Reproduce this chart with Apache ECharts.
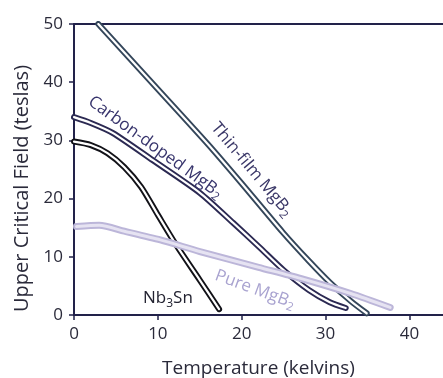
<!DOCTYPE html>
<html>
<head>
<meta charset="utf-8">
<script src="https://cdn.jsdelivr.net/npm/echarts@6/dist/echarts.min.js"></script>
<style>
html, body { margin: 0; padding: 0; background: #fff; }
#chart { width: 443px; height: 378px; }
</style>
</head>
<body>
<div id="chart"></div>
<script>
// Axis tick labels
const xTicks = [0, 10, 20, 30, 40];
const yTicks = [0, 10, 20, 30, 40, 50];

// Upper critical field (T) versus temperature (K), as [temperature, field]
const thinFilmMgB2 = [[2.9, 50], [10, 38.8], [16, 29.3], [20, 22.6], [24.9, 14.2], [28, 9.3], [30.5, 5.6], [33, 2.4], [34.9, 0.3]];
const carbonDopedMgB2 = [[0, 34], [2, 33], [4.6, 31.3], [9.4, 26.6], [15, 21], [19, 15.8], [22, 11.8], [25, 7.7], [28, 4.3], [30.5, 2.2], [32.4, 1.2]];
const nb3Sn = [[0, 29.8], [2, 29.2], [4, 27.8], [6, 25.4], [8, 22], [10, 17.2], [12.2, 12], [15, 6], [17.3, 1]];
const pureMgB2 = [[0.3, 15.2], [3, 15.4], [6, 14.4], [10.3, 12.9], [15, 10.9], [22, 8.2], [27, 6.3], [33, 3.7], [37.7, 1.3]];

// Curve captions: text, anchor [temperature, field], angle in degrees (clockwise)
const captions = [
  { text: 'Thin-film MgB{s|2}', at: [21.2, 25], angle: 50, color: '#3b3868' },
  { text: 'Carbon-doped MgB{s|2}', at: [9.7, 28.8], angle: 36, color: '#37346c' },
  { text: 'Pure MgB{s|2}', at: [21.6, 4.4], angle: 20, color: '#a9a3d0' },
  { text: 'Nb{s|3}Sn', at: [11.2, 2.9], angle: 0, color: '#222230' }
];

const FONT = '"Open Sans", "Noto Sans", sans-serif';
const AXIS_COLOR = '#22224a';
const TEXT_COLOR = '#2a2a3a';

// Each curve is a hollow double stroke: a wide dark line with a thin light core
function doubleLine(name, data, outer, inner, wOuter, wInner, z) {
  const base = {
    type: 'line', data: data, smooth: 0.25,
    symbol: 'none', silent: true, animation: false
  };
  return [
    Object.assign({}, base, { name: name, z: z, lineStyle: { color: outer, width: wOuter, cap: 'round', join: 'round' } }),
    Object.assign({}, base, { name: name + ' core', z: z + 1, lineStyle: { color: inner, width: wInner, cap: 'round', join: 'round' } })
  ];
}

const chart = echarts.init(document.getElementById('chart'), null, { renderer: 'canvas' });

const option = {
  animation: false,
  backgroundColor: '#fff',
  grid: { left: 74, right: 0, top: 24, bottom: 63, containLabel: false, outerBoundsMode: 'none' },
  xAxis: [
    {
      type: 'value', min: 0, max: 44, interval: 10,
      axisLine: { show: true, onZero: false, lineStyle: { color: AXIS_COLOR, width: 2 } },
      axisTick: { show: true, length: 5, lineStyle: { color: AXIS_COLOR, width: 1.5 } },
      axisLabel: {
        showMaxLabel: false, margin: 11, color: TEXT_COLOR, fontFamily: FONT, fontSize: 17,
        formatter: v => (xTicks.indexOf(v) >= 0 ? String(v) : '')
      },
      splitLine: { show: false },
      name: 'Temperature (kelvins)', nameLocation: 'middle', nameGap: 44,
      nameTextStyle: { color: TEXT_COLOR, fontFamily: FONT, fontSize: 19 }
    },
    {
      type: 'value', position: 'top', min: 0, max: 44, interval: 10,
      axisLine: { show: true, onZero: false, lineStyle: { color: AXIS_COLOR, width: 2 } },
      axisTick: { show: false }, axisLabel: { show: false }, splitLine: { show: false }
    }
  ],
  yAxis: {
    type: 'value', min: 0, max: 50, interval: 10,
    axisLine: { show: true, onZero: false, lineStyle: { color: AXIS_COLOR, width: 2 } },
    axisTick: { show: true, length: 5, lineStyle: { color: AXIS_COLOR, width: 1.5 } },
    axisLabel: {
      margin: 11, color: TEXT_COLOR, fontFamily: FONT, fontSize: 17,
      formatter: v => (yTicks.indexOf(v) >= 0 ? String(v) : '')
    },
    splitLine: { show: false },
    name: 'Upper Critical Field (teslas)', nameLocation: 'middle', nameGap: 38,
    nameTextStyle: { color: TEXT_COLOR, fontFamily: FONT, fontSize: 20, padding: [0, 38, 0, 0] }
  },
  series: [].concat(
    doubleLine('Thin-film MgB2', thinFilmMgB2, '#34465a', '#ffffff', 6, 2.2, 10),
    doubleLine('Carbon-doped MgB2', carbonDopedMgB2, '#2b2952', '#ffffff', 6, 2.2, 10),
    doubleLine('Nb3Sn', nb3Sn, '#121218', '#ffffff', 6, 2.2, 10),
    doubleLine('Pure MgB2', pureMgB2, '#bcb6d9', '#e6e3f2', 7, 3, 20)
  )
};

chart.setOption(option);

// Place captions along their curves using the chart's own coordinate system
const graphics = captions.map(c => {
  const p = chart.convertToPixel({ gridIndex: 0 }, c.at);
  return {
    type: 'text',
    x: p[0], y: p[1],
    rotation: -c.angle * Math.PI / 180,
    z: 50,
    silent: true,
    style: {
      text: c.text,
      fill: c.color,
      font: '17px ' + FONT,
      align: 'center',
      verticalAlign: 'middle',
      rich: {
        s: { fontSize: 12, fill: c.color, fontFamily: FONT, padding: [10, 0, 0, 0] }
      }
    }
  };
});
chart.setOption({ graphic: graphics });
</script>
</body>
</html>
